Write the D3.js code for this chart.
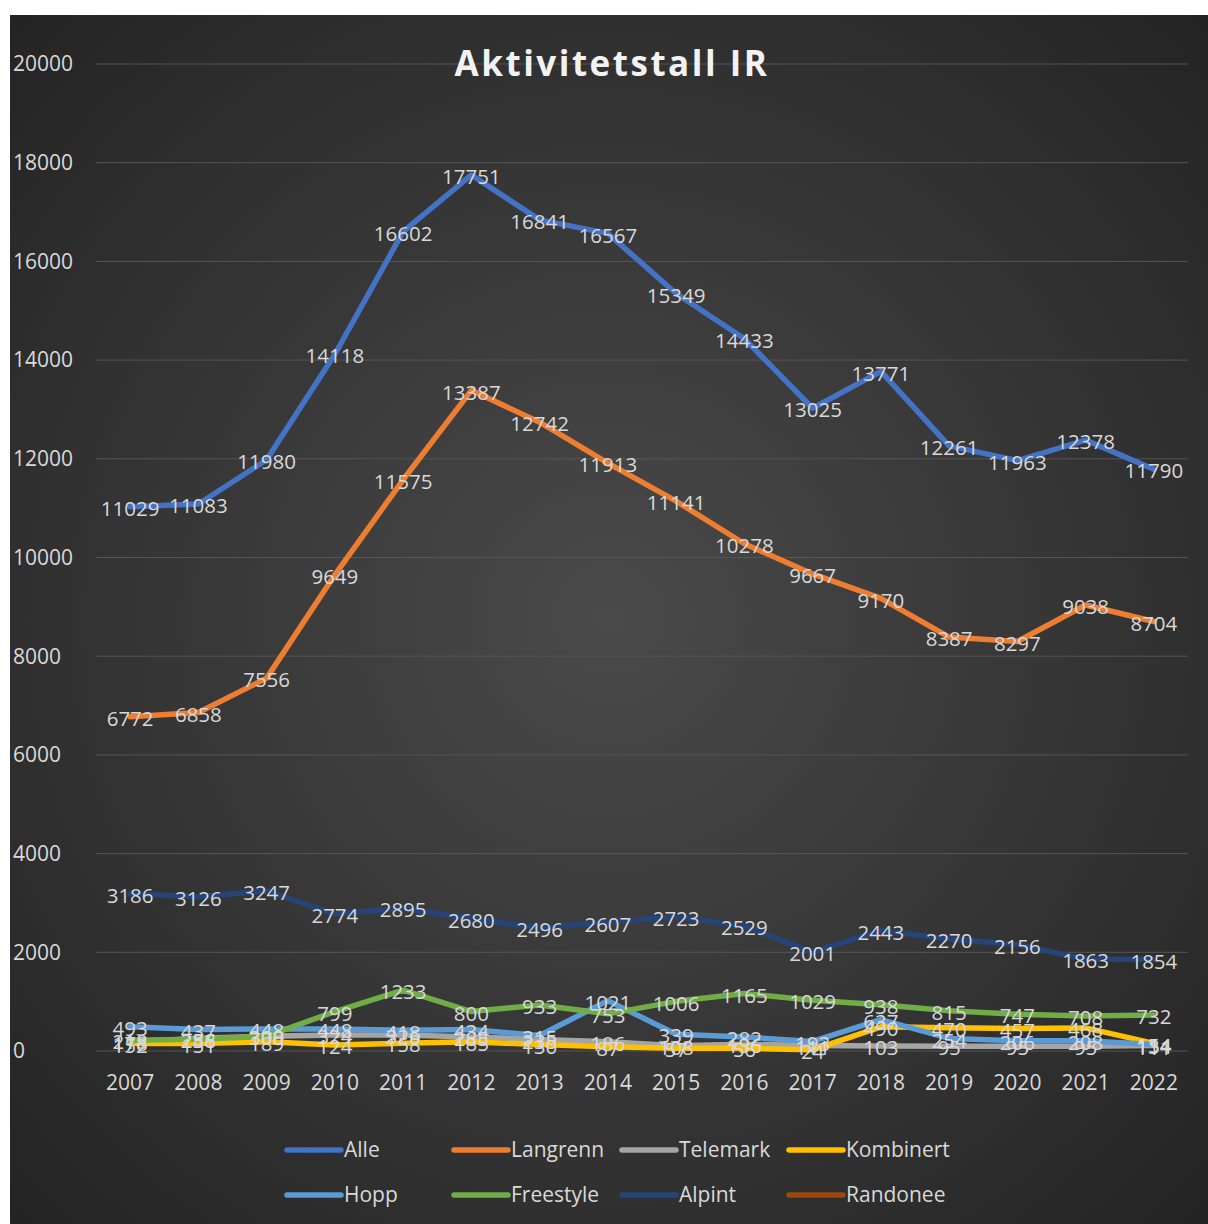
<!DOCTYPE html>
<html>
<head>
<meta charset="utf-8">
<script src="https://cdn.jsdelivr.net/npm/d3@7"></script>
<style>
  body { margin: 0; background: #fff; }
  svg { display: block; }
</style>
</head>
<body>
<svg id="chart" width="1208" height="1224"></svg>
<script>
var years = ["2007","2008","2009","2010","2011","2012","2013","2014","2015","2016","2017","2018","2019","2020","2021","2022"];
var seriesNames = ["Alle","Langrenn","Telemark","Kombinert","Hopp","Freestyle","Alpint","Randonee"];
var seriesColors = ["#4472C4","#ED7D31","#A5A5A5","#FFC000","#5B9BD5","#70AD47","#264478","#9E480E"];

var alle      = [11029,11083,11980,14118,16602,17751,16841,16567,15349,14433,13025,13771,12261,11963,12378,11790];
var langrenn  = [6772,6858,7556,9649,11575,13387,12742,11913,11141,10278,9667,9170,8387,8297,9038,8704];
var telemark  = [178,256,300,324,326,285,235,186,108,136,111,103,95,95,95,111];
var kombinert = [152,151,189,124,158,185,130,87,57,56,24,490,470,457,468,154];
var hopp      = [493,437,448,448,418,434,315,1021,339,282,193,637,254,206,208,134];
var freestyle = [218,238,300,799,1233,800,933,753,1006,1165,1029,938,815,747,708,732];
var alpint    = [3186,3126,3247,2774,2895,2680,2496,2607,2723,2529,2001,2443,2270,2156,1863,1854];
var randonee  = [null,null,null,null,null,null,null,null,null,null,null,null,null,null,null,null];

var yTicks = [0,2000,4000,6000,8000,10000,12000,14000,16000,18000,20000];
var allSeries = [alle, langrenn, telemark, kombinert, hopp, freestyle, alpint, randonee];

var svg = d3.select("#chart");
var font = "'Open Sans', 'Liberation Sans', sans-serif";

// bakgrunn
var defs = svg.append("defs");
var grad = defs.append("radialGradient").attr("id", "bg")
  .attr("cx", "50%").attr("cy", "50%").attr("r", "70%");
grad.append("stop").attr("offset", "0%").attr("stop-color", "#4a4a4a");
grad.append("stop").attr("offset", "100%").attr("stop-color", "#242424");
svg.append("rect").attr("x", 10).attr("y", 15).attr("width", 1198).attr("height", 1209)
  .attr("fill", "url(#bg)");

var x = d3.scaleBand().domain(years).range([96, 1188]);
var y = d3.scaleLinear().domain([0, 20000]).range([1051, 64]);

// rutenett
svg.append("g").selectAll("line").data(yTicks).enter().append("line")
  .attr("x1", 96).attr("x2", 1188)
  .attr("y1", function(d){ return y(d); }).attr("y2", function(d){ return y(d); })
  .attr("stroke", "#555").attr("stroke-width", 1);

svg.append("g").selectAll("text").data(yTicks).enter().append("text")
  .attr("x", 13).attr("y", function(d){ return y(d); })
  .attr("dy", "0.35em")
  .attr("font-family", font).attr("font-size", 21).attr("fill", "#d9d9d9")
  .text(function(d){ return d; });

svg.append("g").selectAll("text").data(years).enter().append("text")
  .attr("x", function(d){ return x(d) + x.bandwidth()/2; }).attr("y", 1083)
  .attr("dy", "0.35em").attr("text-anchor", "middle")
  .attr("font-family", font).attr("font-size", 21).attr("fill", "#d9d9d9")
  .text(function(d){ return d; });

svg.append("text").attr("x", 612).attr("y", 64).attr("dy", "0.35em")
  .attr("text-anchor", "middle")
  .attr("font-family", font).attr("font-weight", "bold").attr("font-size", 35)
  .attr("letter-spacing", 2.5).attr("fill", "#f2f2f2")
  .text("Aktivitetstall IR");

var line = d3.line()
  .defined(function(d){ return d != null; })
  .x(function(d, i){ return x(years[i]) + x.bandwidth()/2; })
  .y(function(d){ return y(d); });

svg.append("g").selectAll("path").data(allSeries).enter().append("path")
  .attr("d", function(d){ return line(d); })
  .attr("fill", "none")
  .attr("stroke", function(d, i){ return seriesColors[i]; })
  .attr("stroke-width", 5.5)
  .attr("stroke-linejoin", "round").attr("stroke-linecap", "round");

// dataetiketter
allSeries.forEach(function(s){
  var pts = s.map(function(v, i){ return {v: v, i: i}; }).filter(function(p){ return p.v != null; });
  svg.append("g").selectAll("text").data(pts).enter().append("text")
    .attr("x", function(p){ return x(years[p.i]) + x.bandwidth()/2; })
    .attr("y", function(p){ return y(p.v) + 2; })
    .attr("dy", "0.35em").attr("text-anchor", "middle")
    .attr("font-family", font).attr("font-size", 20.5).attr("fill", "#d9d9d9")
    .text(function(p){ return p.v; });
});

// forklaring
var legX = [285, 452, 620, 787];
var legY = [1150, 1195];
var leg = svg.append("g").selectAll("g").data(seriesNames).enter().append("g")
  .attr("transform", function(d, i){ return "translate(" + legX[i % 4] + "," + legY[Math.floor(i / 4)] + ")"; });
leg.append("line").attr("x1", 2).attr("x2", 56).attr("y1", 0).attr("y2", 0)
  .attr("stroke", function(d, i){ return seriesColors[i]; })
  .attr("stroke-width", 5.5).attr("stroke-linecap", "round");
leg.append("text").attr("x", 59).attr("y", 0).attr("dy", "0.35em")
  .attr("font-family", font).attr("font-size", 21).attr("fill", "#d9d9d9")
  .text(function(d){ return d; });
</script>
</body>
</html>
